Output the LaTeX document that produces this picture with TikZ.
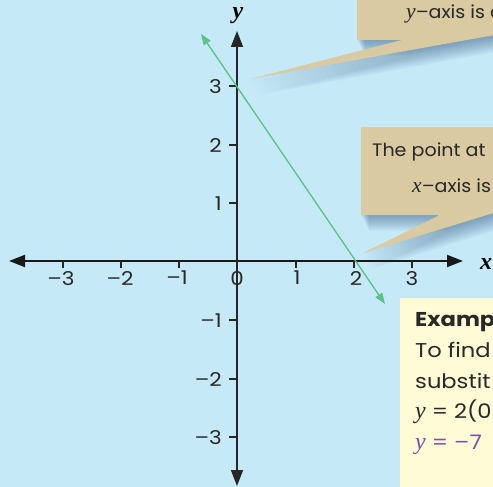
\documentclass[tikz,border=0pt]{standalone}
\usepackage{fontspec}
\setmainfont{Poppins}[FakeStretch=1.13]
\newfontfamily\calfont{Poppins}[FakeStretch=1.06]
\newfontfamily\axisfont{Liberation Serif}
\newfontfamily\itfont{Liberation Serif}[Scale=1.2]
\newcommand{\vit}[1]{{\itfont\itshape #1}}
\usetikzlibrary{arrows.meta}
\definecolor{bgblue}{RGB}{198,233,248}
\definecolor{tan}{RGB}{217,202,161}
\definecolor{shadowc}{RGB}{50,85,125}
\definecolor{exbox}{RGB}{255,251,214}
\definecolor{gline}{RGB}{92,192,138}
\definecolor{purp}{RGB}{123,79,168}
\definecolor{txt}{RGB}{40,40,40}
\begin{document}
\begin{tikzpicture}[x=1pt,y=-1pt,
  numlbl/.style={font=\fontsize{19}{22}\selectfont, text=txt, inner sep=0},
  axislbl/.style={font=\axisfont\bfseries\itshape\fontsize{24}{26}\selectfont, inner sep=0},
  ctext/.style={font=\calfont\fontsize{18}{22}\selectfont, text=txt, inner sep=0, anchor=base west},
  extext/.style={font=\fontsize{20}{22}\selectfont, text=txt, inner sep=0, anchor=base west},
  axisline/.style={line width=1.9pt, black!90},
  tickline/.style={line width=1.1pt, black!85},
  bigtip/.style={-{Triangle[length=16pt,width=12pt]}}]
\useasboundingbox (0,0) rectangle (493,487);
\clip (0,0) rectangle (493,487);
\fill[bgblue] (0,0) rectangle (493,487);

% callout shapes
\def\calloutA{(357,-5) -- (357,40) -- (402,40) -- (250,79) -- (500,34) -- (500,-5) -- cycle}
\def\calloutB{(361,127) -- (361,215) -- (440,215) -- (363,253) -- (500,211) -- (500,127) -- cycle}
\foreach \s in {1,...,16}{
  \fill[shadowc, opacity=0.035, shift={(\s*0.5,\s)}] \calloutA;
  \fill[shadowc, opacity=0.035, shift={(\s*0.5,\s)}] \calloutB;
}
\fill[tan] \calloutA;
\fill[tan] \calloutB;

\node[ctext] (ta) at (406,19) {\vit{y}–axis is c};
\node[ctext] (tb1) at (372,157) {The point at};
\node[ctext] (tb2) at (412,192) {\vit{x}–axis is};

% example box
\fill[exbox] (400,298) rectangle (500,500);
\node[extext, font=\fontsize{20}{22}\selectfont\bfseries] (e1) at (415,326) {Examp};
\node[extext] (e2) at (415,357) {To find};
\node[extext] (e3) at (415,388) {substit};
\node[extext] (e4) at (415,418) {\vit{y} = 2(0};
\node[extext, text=purp] (e5) at (415,449) {\vit{y} = –7};

% axes
\coordinate (O) at (237,261);
\coordinate (xl) at (9,261);
\coordinate (xr) at (463,261);
\coordinate (yt) at (237,31);
\coordinate (yb) at (237,486);
\draw[axisline, bigtip] (O) -- (xl);
\draw[axisline, bigtip] (O) -- (xr);
\draw[line width=1.6pt, black!85, bigtip] (O) -- (yt);
\draw[line width=1.6pt, black!85, bigtip] (O) -- (yb);

% x ticks
\foreach \px in {63,121,179,296,354,412}{
  \draw[tickline] (\px,261) -- (\px,268);
}
\node[numlbl, anchor=north] (xm3) at (61,271) {–3};
\node[numlbl, anchor=north] (xm2) at (120,271) {–2};
\node[numlbl, anchor=north] (xm1) at (177,271) {–1};
\node[numlbl, anchor=north] (x0) at (237,271) {0};
\node[numlbl, anchor=north] (x1) at (297,271) {1};
\node[numlbl, anchor=north] (x2) at (356,271) {2};
\node[numlbl, anchor=north] (x3) at (412,271) {3};

% y ticks
\foreach \py in {86,145,203,320,379,437}{
  \draw[tickline] (229,\py) -- (237,\py);
}
\node[numlbl, anchor=east] (y3) at (222,87) {3};
\node[numlbl, anchor=east] (y2) at (222,146) {2};
\node[numlbl, anchor=east] (y1) at (222,204) {1};
\node[numlbl, anchor=east] (ym1) at (222,321) {–1};
\node[numlbl, anchor=east] (ym2) at (222,380) {–2};
\node[numlbl, anchor=east] (ym3) at (222,438) {–3};

\node[axislbl] (ylab) at (238,16) {y};
\node[axislbl] (xlab) at (486,264) {x};

% green line
\coordinate (g1) at (201,34);
\coordinate (g2) at (385,304);
\coordinate (gm) at (293,169);
\draw[gline, line width=1.3pt, -{Triangle[length=11pt,width=8pt]}] (gm) -- (g1);
\draw[gline, line width=1.3pt, -{Triangle[length=11pt,width=8pt]}] (gm) -- (g2);
\end{tikzpicture}
\end{document}
